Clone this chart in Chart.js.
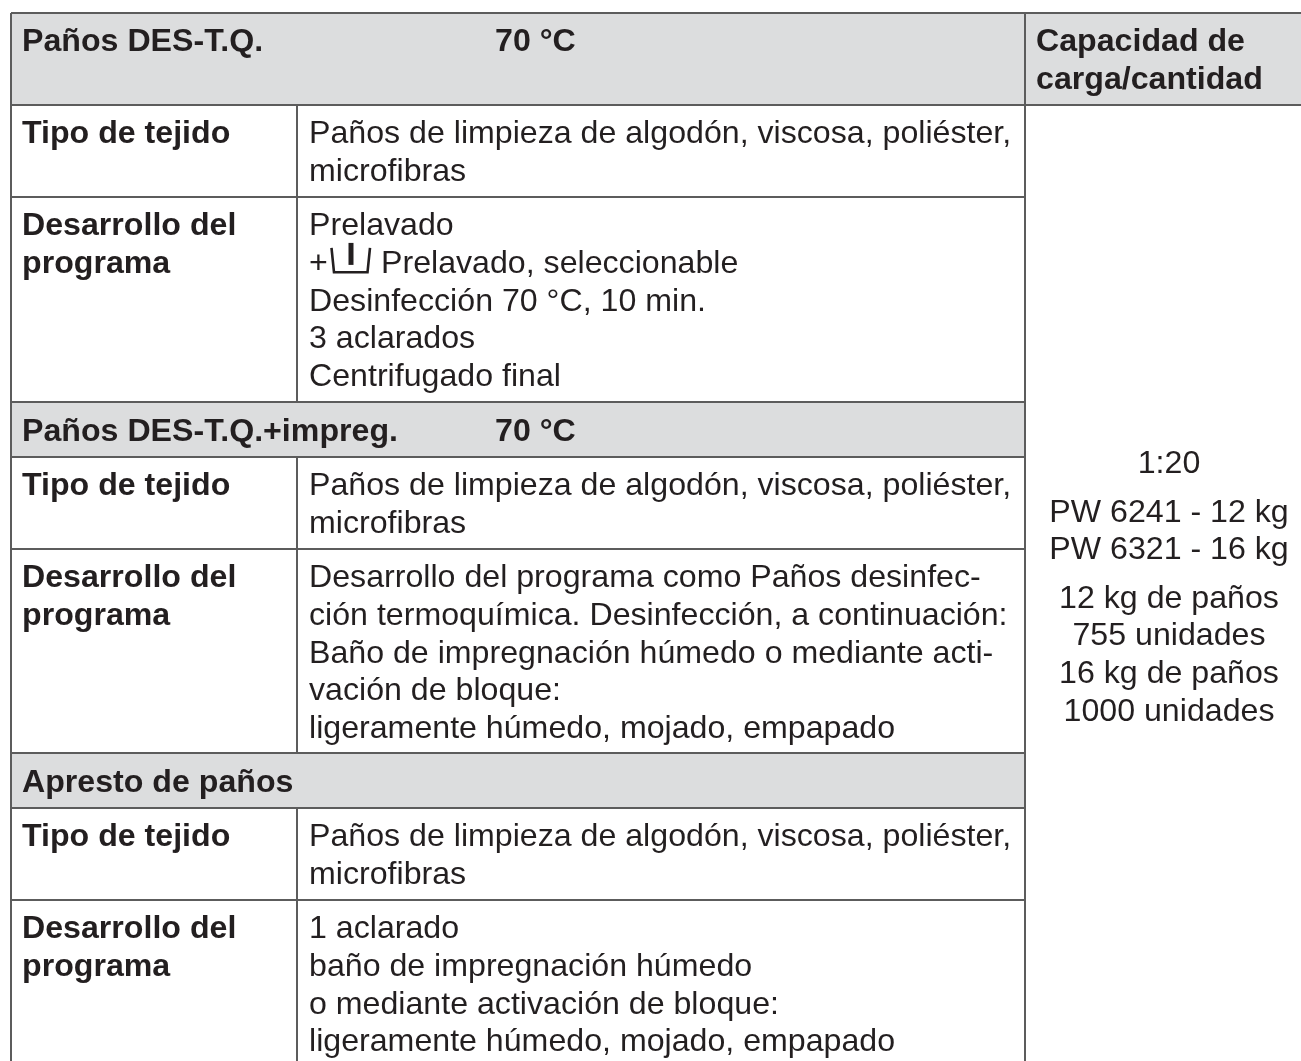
<!DOCTYPE html>
<html>
<head>
<meta charset="utf-8">
<title>Paños DES-T.Q.</title>
<script src="https://cdn.jsdelivr.net/npm/chart.js@4"></script>
<style>
    html, body { margin: 0; padding: 0; background: #fff; }
    canvas { display: block; }
</style>
</head>
<body>
<canvas id="tableChart" width="1301" height="1061"></canvas>
<script>
// Table texts
const bandTitles = ['Paños DES-T.Q.', 'Paños DES-T.Q.+impreg.', 'Apresto de paños'];
const bandTemps = ['70 °C', '70 °C', ''];
const capacityHeader = ['Capacidad de', 'carga/cantidad'];
const rowLabels = [
    ['Tipo de tejido'],
    ['Desarrollo del', 'programa'],
    ['Tipo de tejido'],
    ['Desarrollo del', 'programa'],
    ['Tipo de tejido'],
    ['Desarrollo del', 'programa']
];
const rowTexts = [
    ['Paños de limpieza de algodón, viscosa, poliéster,', 'microfibras'],
    ['Prelavado', '+', 'Desinfección 70 °C, 10 min.', '3 aclarados', 'Centrifugado final'],
    ['Paños de limpieza de algodón, viscosa, poliéster,', 'microfibras'],
    ['Desarrollo del programa como Paños desinfec-', 'ción termoquímica. Desinfección, a continuación:', 'Baño de impregnación húmedo o mediante acti-', 'vación de bloque:', 'ligeramente húmedo, mojado, empapado'],
    ['Paños de limpieza de algodón, viscosa, poliéster,', 'microfibras'],
    ['1 aclarado', 'baño de impregnación húmedo', 'o mediante activación de bloque:', 'ligeramente húmedo, mojado, empapado']
];
const capacityTexts = ['1:20', 'PW 6241 - 12 kg', 'PW 6321 - 16 kg', '12 kg de paños', '755 unidades', '16 kg de paños', '1000 unidades'];
const iconLineText = 'Prelavado, seleccionable';

// Layout, in scale units (1 unit = 1 px of the page)
const colX = { left: 11, label: 297, body: 1025, right: 1301 };
const tableTop = 13;
const bands = [[13, 105], [402, 457], [753, 808]];
const rowEdges = [[105, 197], [197, 402], [457, 549], [549, 753], [808, 900], [900, 1061]];
const capacityBaselines = [473, 522, 559, 608, 645, 683, 721];
const capacityCenter = 1169;
const lineGap = 37.7;

const gridColor = '#5c5c5c';
const bandColor = '#dcddde';
const inkColor = '#231f20';
const fontName = '"Liberation Sans", Arial, sans-serif';

function rule(x0, y0, x1, y1) {
    return {
        data: [{ x: x0, y: y0 }, { x: x1, y: y1 }],
        showLine: true,
        borderColor: gridColor,
        borderWidth: 2,
        pointRadius: 0,
        order: 1
    };
}

// Grey header bands, filled from their bottom edge up to their top edge
const bandSets = bands.map(b => ({
    data: [{ x: colX.left, y: b[1] }, { x: b[0] === tableTop ? colX.right : colX.body, y: b[1] }],
    showLine: true,
    fill: { value: b[0] },
    backgroundColor: bandColor,
    borderWidth: 0,
    pointRadius: 0,
    order: 2
}));

// Grid lines
const ruleSets = [
    rule(colX.left, tableTop, colX.left, 1061),
    rule(colX.body, tableTop, colX.body, 1061),
    rule(colX.left, tableTop, colX.right, tableTop),
    rule(colX.left, bands[0][1], colX.right, bands[0][1])
];
bands.slice(1).forEach(b => {
    ruleSets.push(rule(colX.left, b[0], colX.body, b[0]));
    ruleSets.push(rule(colX.left, b[1], colX.body, b[1]));
});
rowEdges.forEach(r => {
    ruleSets.push(rule(colX.label, r[0], colX.label, r[1]));
    if (r[1] < 1061) ruleSets.push(rule(colX.left, r[1], colX.body, r[1]));
});

// Table text and the pre-wash symbol
const tableText = {
    id: 'tableText',
    afterDatasetsDraw(chart) {
        const ctx = chart.ctx;
        const px = v => chart.scales.x.getPixelForValue(v);
        const py = v => chart.scales.y.getPixelForValue(v);
        const write = (str, x, y, bold, align) => {
            ctx.font = (bold ? 'bold ' : '') + '32.15px ' + fontName;
            ctx.textAlign = align || 'left';
            ctx.fillText(str, px(x), py(y));
        };

        ctx.save();
        ctx.fillStyle = inkColor;
        ctx.textBaseline = 'alphabetic';

        bandTitles.forEach((title, i) => {
            const base = i === 0 ? bands[0][0] + 38 : bands[i][0] + 39;
            write(title, 22, base, true);
            if (bandTemps[i]) write(bandTemps[i], 495, base, true);
        });
        capacityHeader.forEach((str, i) => write(str, 1036, 51 + i * lineGap, true));

        rowEdges.forEach((edge, r) => {
            const base = edge[0] + 38.2;
            rowLabels[r].forEach((str, i) => write(str, 22, base + i * lineGap, true));
            rowTexts[r].forEach((str, i) => write(str, 309, base + i * lineGap, false));
        });

        // symbol line in the first program row
        const symBase = rowEdges[1][0] + 38.2 + lineGap;
        write(iconLineText, 381, symBase, false);
        ctx.strokeStyle = inkColor;
        ctx.lineWidth = 2.6;
        ctx.beginPath();
        ctx.moveTo(px(331.5), py(symBase - 25));
        ctx.lineTo(px(334), py(symBase - 0.6));
        ctx.lineTo(px(367.5), py(symBase - 0.6));
        ctx.lineTo(px(370), py(symBase - 25));
        ctx.stroke();
        ctx.lineWidth = 5;
        ctx.beginPath();
        ctx.moveTo(px(351), py(symBase - 30));
        ctx.lineTo(px(351), py(symBase - 8));
        ctx.stroke();

        capacityTexts.forEach((str, i) => write(str, capacityCenter, capacityBaselines[i], false, 'center'));
        ctx.restore();
    }
};

new Chart(document.getElementById('tableChart'), {
    type: 'scatter',
    data: { datasets: bandSets.concat(ruleSets) },
    plugins: [tableText],
    options: {
        responsive: false,
        animation: false,
        layout: { padding: 0 },
        plugins: { legend: { display: false }, tooltip: { enabled: false } },
        scales: {
            x: { type: 'linear', display: false, min: 0, max: 1301 },
            y: { type: 'linear', display: false, min: 0, max: 1061, reverse: true }
        }
    }
});
</script>
</body>
</html>
